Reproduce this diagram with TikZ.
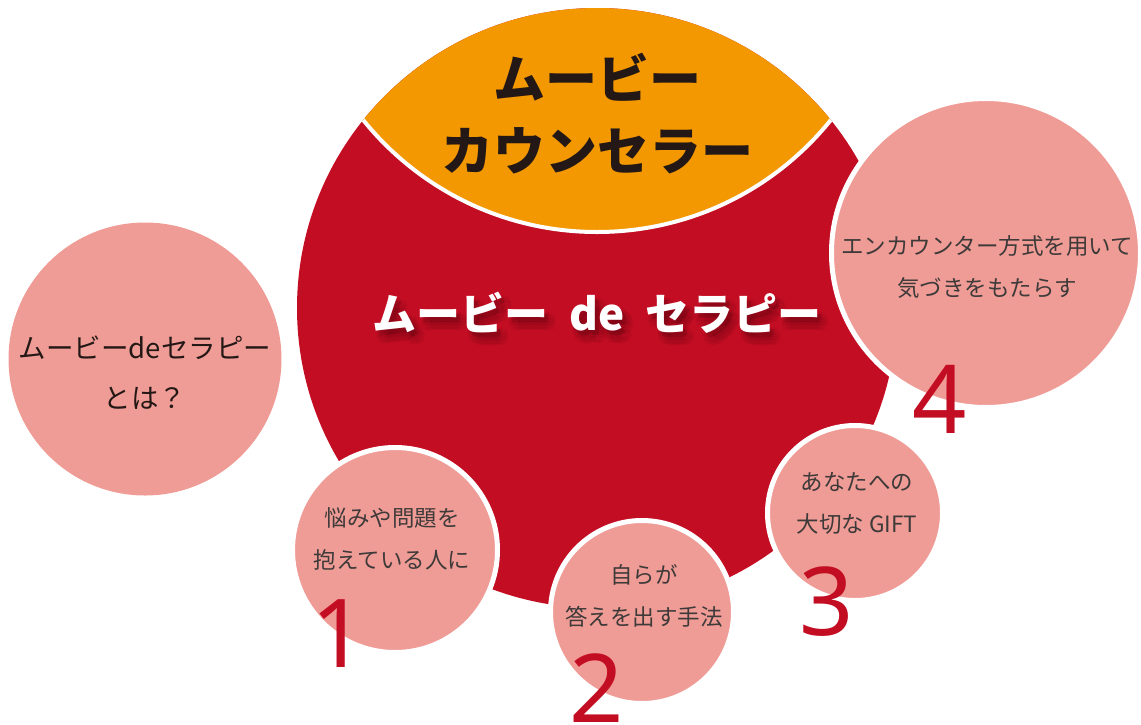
\documentclass[tikz,border=0pt]{standalone}
\usepackage{fontspec}
\newfontfamily\jp{Noto Sans CJK JP}
\newfontfamily\numfont{Noto Sans}
\definecolor{mred}{HTML}{C30D23}
\definecolor{morange}{HTML}{F39800}
\definecolor{salmon}{HTML}{F09C96}
\definecolor{ink}{HTML}{231815}
\definecolor{textgray}{HTML}{3E3A39}
\definecolor{shadowred}{HTML}{5A0510}
\tikzset{
  disc/.style={circle, fill=salmon, draw=white, line width=5pt, inner sep=0pt, outer sep=0pt},
  disclabel/.style={font=\jp\fontsize{22.5}{42}\selectfont, text=textgray, align=center, inner sep=0pt},
  bignum/.style={font=\numfont\fontsize{95}{95}\selectfont, text=mred, inner sep=0pt},
  titletext/.style={font=\jp\bfseries\fontsize{44}{50}\selectfont, inner sep=0pt},
}
\newcommand\mytitle{ムービー\hspace{0.47em}de\hspace{0.47em}セラピー}
\begin{document}
\begin{tikzpicture}[x=1pt,y=-1pt]
\useasboundingbox (0,0) rectangle (1141,724);
% intro circle
\node[circle, fill=salmon, minimum size=273pt, inner sep=0pt] (intro) at (145,359) {};
\node[font=\jp\fontsize{27.5}{50}\selectfont, text=ink, align=center, inner sep=0pt] (introtext) at (145,373) {ムービーdeセラピー\\とは？};
% main circle
\node[circle, fill=mred, minimum size=600pt, inner sep=0pt] (main) at (597,308) {};
\begin{scope}
  \clip (597,308) circle[radius=300pt];
  \fill[morange] (597,-68) circle[radius=300pt];
  \draw[white, line width=4pt] (597,-68) circle[radius=300pt];
\end{scope}
\node[font=\jp\bfseries\fontsize{52}{72}\selectfont, text=ink, align=center, inner sep=0pt] (cap) at (597,114) {ムービー\\カウンセラー};
% title with soft shadow
\foreach \a in {0,45,...,315} {
  \node[titletext, text=shadowred, opacity=0.08] at ({603+5*cos(\a)},{321+5*sin(\a)}) {\mytitle};
}
\node[titletext, text=shadowred, opacity=0.25] at (601,318) {\mytitle};
\node[titletext, text=white] (title) at (597,313) {\mytitle};
% satellite circles
\node[disc, minimum size=205pt] (c1) at (395,550) {};
\node[disc, minimum size=183pt] (c2) at (642,612) {};
\node[disc, minimum size=175pt] (c3) at (855,513) {};
\node[disc, minimum size=309pt] (c4) at (986,253) {};
\node[disclabel] (t1) at (392,539) {悩みや問題を\\抱えている人に};
\node[disclabel] (t2) at (644,596) {自らが\\答えを出す手法};
\node[disclabel] (t3) at (857,503) {あなたへの\\大切な GIFT};
\node[disclabel] (t4) at (987,267) {エンカウンター方式を用いて\\気づきをもたらす};
% numbers
\node[bignum] (n1) at (339,634) {1};
\node[bignum] (n2) at (597,688) {2};
\node[bignum] (n3) at (827,602) {3};
\node[bignum] (n4) at (940,399) {4};
\end{tikzpicture}
\end{document}
